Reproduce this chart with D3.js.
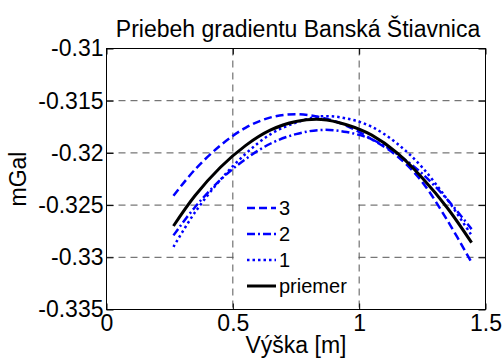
<!DOCTYPE html>
<html>
<head>
<meta charset="utf-8">
<script src="https://cdn.jsdelivr.net/npm/d3@7"></script>
<style>
  body { margin: 0; background: #fff; }
  text { font-family: "Liberation Sans", Arial, sans-serif; fill: #000; }
</style>
</head>
<body>
<div id="chart"></div>
<script>
// values
const heights = [0.265, 0.35, 0.45, 0.55, 0.65, 0.75, 0.85, 0.95, 1.05, 1.15, 1.25, 1.35, 1.445];
const series3 = [-0.3241, -0.3216, -0.3193, -0.3176, -0.3166, -0.3163, -0.3166, -0.3174, -0.3187, -0.3203, -0.3228, -0.3265, -0.3305];
const series2 = [-0.3279, -0.3252, -0.3226, -0.3206, -0.3191, -0.3182, -0.3178, -0.3180, -0.3187, -0.3201, -0.3220, -0.3245, -0.3273];
const series1 = [-0.3290, -0.3257, -0.3226, -0.3201, -0.3182, -0.3171, -0.3165, -0.3167, -0.3175, -0.3191, -0.3214, -0.3245, -0.3279];
const priemer = [-0.3270, -0.3241, -0.3214, -0.3193, -0.3178, -0.3170, -0.3168, -0.3173, -0.3183, -0.3200, -0.3224, -0.3253, -0.3286];

const xTicks = [0, 0.5, 1, 1.5];
const yTicks = [-0.31, -0.315, -0.32, -0.325, -0.33, -0.335];
const seriesNames = ["3", "2", "1", "priemer"];

const width = 504, height = 358;
const margin = { top: 48.5, right: 18.5, bottom: 48.5, left: 106.5 };

const svg = d3.select("#chart").append("svg")
  .attr("width", width)
  .attr("height", height);

svg.append("rect").attr("width", width).attr("height", height).attr("fill", "#fff");

const x = d3.scaleLinear().domain([0, 1.5]).range([margin.left, width - margin.right]);
const y = d3.scaleLinear().domain([-0.335, -0.31]).range([height - margin.bottom, margin.top]);

// grid
const grid = svg.append("g")
  .attr("stroke", "#555")
  .attr("stroke-width", 1)
  .attr("stroke-dasharray", "7,5");

grid.selectAll(".gx")
  .data(xTicks.slice(1, -1))
  .enter().append("line")
  .attr("x1", d => x(d)).attr("x2", d => x(d))
  .attr("y1", y.range()[1]).attr("y2", y.range()[0]);

grid.selectAll(".gy")
  .data(yTicks.slice(1, -1))
  .enter().append("line")
  .attr("x1", x.range()[0]).attr("x2", x.range()[1])
  .attr("y1", d => y(d)).attr("y2", d => y(d));

// axes, ticks point inward
const fmt = d => String(d);

svg.append("g")
  .attr("transform", `translate(0, ${y.range()[0]})`)
  .call(d3.axisBottom(x).tickValues(xTicks).tickFormat(fmt).tickSizeInner(-6).tickSizeOuter(0).tickPadding(5))
  .call(g => g.selectAll("text").style("font-size", "23px").attr("dy", "0.72em"));

svg.append("g")
  .attr("transform", `translate(0, ${y.range()[1]})`)
  .call(d3.axisTop(x).tickValues(xTicks).tickFormat("").tickSizeInner(-6).tickSizeOuter(0));

svg.append("g")
  .attr("transform", `translate(${x.range()[0]}, 0)`)
  .call(d3.axisLeft(y).tickValues(yTicks).tickFormat(fmt).tickSizeInner(-7).tickSizeOuter(0).tickPadding(3))
  .call(g => g.selectAll("text").style("font-size", "23px"));

svg.append("g")
  .attr("transform", `translate(${x.range()[1]}, 0)`)
  .call(d3.axisRight(y).tickValues(yTicks).tickFormat("").tickSizeInner(-7).tickSizeOuter(0));

svg.selectAll(".domain").remove();
svg.selectAll(".tick line").attr("stroke", "#000");

svg.append("rect")
  .attr("x", x.range()[0]).attr("y", y.range()[1])
  .attr("width", x.range()[1] - x.range()[0])
  .attr("height", y.range()[0] - y.range()[1])
  .attr("fill", "none")
  .attr("stroke", "#000")
  .attr("stroke-width", 1);

// lines
const styles = [
  { values: series3, color: "#0000ff", width: 2.5, dash: "8,4" },
  { values: series2, color: "#0000ff", width: 2.5, dash: "8,3,2,3" },
  { values: series1, color: "#0000ff", width: 2.5, dash: "2.5,3" },
  { values: priemer, color: "#000", width: 3, dash: null }
];

const line = d3.line()
  .x(d => x(d[0]))
  .y(d => y(d[1]))
  .curve(d3.curveCardinal);

styles.forEach(s => {
  svg.append("path")
    .datum(heights.map((h, i) => [h, s.values[i]]))
    .attr("fill", "none")
    .attr("stroke", s.color)
    .attr("stroke-width", s.width)
    .attr("stroke-dasharray", s.dash)
    .attr("d", line);
});

// legend
const legend = svg.append("g").attr("transform", "translate(236, 194)");
legend.append("rect")
  .attr("width", 119).attr("height", 107)
  .attr("fill", "#fff");

seriesNames.forEach((name, i) => {
  const row = legend.append("g").attr("transform", `translate(0, ${14 + i * 26})`);
  row.append("line")
    .attr("x1", 11).attr("x2", 40)
    .attr("stroke", styles[i].color)
    .attr("stroke-width", styles[i].width)
    .attr("stroke-dasharray", styles[i].dash);
  row.append("text")
    .attr("x", 43)
    .attr("dy", "0.35em")
    .style("font-size", "20px")
    .text(name);
});

// titles
svg.append("text")
  .attr("x", 298).attr("y", 37)
  .attr("text-anchor", "middle")
  .style("font-size", "23px")
  .text("Priebeh gradientu Banská Štiavnica");

svg.append("text")
  .attr("x", 296).attr("y", 353)
  .attr("text-anchor", "middle")
  .style("font-size", "23px")
  .text("Výška [m]");

svg.append("text")
  .attr("transform", `translate(26, ${(y.range()[0] + y.range()[1]) / 2}) rotate(-90)`)
  .attr("text-anchor", "middle")
  .style("font-size", "23px")
  .text("mGal");
</script>
</body>
</html>
